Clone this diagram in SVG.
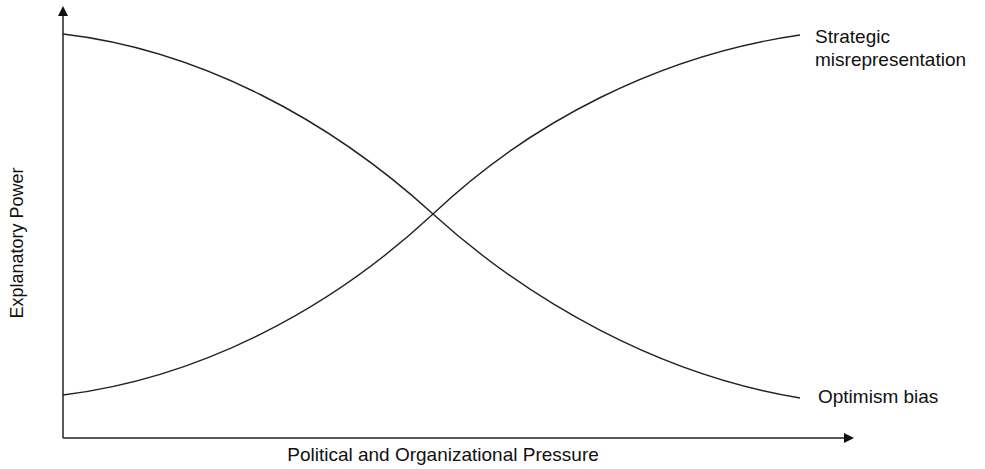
<svg xmlns="http://www.w3.org/2000/svg" width="985" height="469" viewBox="0 0 985 469">
<style>
.ax{stroke:#222;stroke-width:1.5;fill:none}
.cv{stroke:#222;stroke-width:1.4;fill:none}
text{font-family:"Liberation Sans",Arial,sans-serif;font-size:19px;fill:#111}
</style>
<defs>
<marker id="ar" markerWidth="10" markerHeight="10" refX="8" refY="5" orient="auto" markerUnits="userSpaceOnUse">
<path d="M0,0 L10,5 L0,10 z" fill="#111"/>
</marker>
</defs>
<rect width="985" height="469" fill="#fff"/>
<g id="connectors">
<path id="y-axis" class="ax" d="M63,438 L63,8" marker-end="url(#ar)"/>
<path id="x-axis" class="ax" d="M63,438 L852,438" marker-end="url(#ar)"/>
<path id="optimism-curve" class="cv" d="M63,34 C200,50 330,120 433,214 C530,302 660,375 800,398"/>
<path id="strategic-curve" class="cv" d="M63,395 C200,378 330,310 433,214 C530,122 660,55 800,35"/>
</g>
<g id="label-strategic">
<text x="815" y="43">Strategic</text>
<text x="815" y="66">misrepresentation</text>
</g>
<g id="label-optimism">
<text x="818" y="403">Optimism bias</text>
</g>
<g id="label-x">
<text x="443" y="461" text-anchor="middle">Political and Organizational Pressure</text>
</g>
<g id="label-y">
<text transform="translate(23,243) rotate(-90)" text-anchor="middle" style="font-size:18px">Explanatory Power</text>
</g>
</svg>
